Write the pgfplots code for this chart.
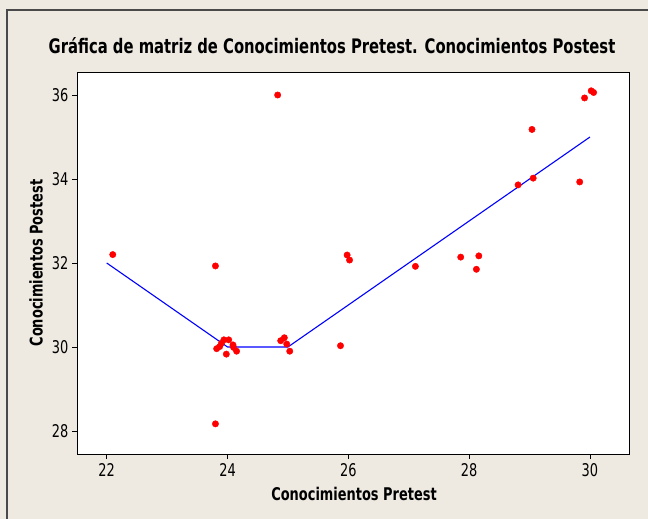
\documentclass[border=0pt]{standalone}
\usepackage{fontspec}
\setmainfont{DejaVu Sans}[FakeStretch=0.74]
\usepackage{pgfplots}
\pgfplotsset{compat=1.18}
\definecolor{bgbeige}{HTML}{EEEAE1}
\definecolor{framegray}{HTML}{4A4A4A}
\begin{document}
\begin{tikzpicture}[x=1pt,y=1pt]
\fill[bgbeige] (0,0) rectangle (648,519);
\draw[framegray,line width=1.5pt] (7,0) -- (7,509) -- (648,509);
\begin{axis}[
  at={(77pt,65pt)}, anchor=south west,
  scale only axis, width=552pt, height=382pt,
  xmin=21.508, xmax=30.646, ymin=27.452, ymax=36.548,
  xtick={22,24,26,28,30}, ytick={28,30,32,34,36},
  tick align=outside, tick pos=left,
  major tick length=5pt,
  every tick/.style={black, line width=0.6pt},
  axis line style={black, line width=0.8pt},
  axis background/.style={fill=white},
  /pgf/number format/assume math mode=true,
  ticklabel style={font=\fontsize{17.5}{19}\selectfont},
  xticklabel style={yshift=-1pt},
  clip=false,
]
\addplot[blue, line width=1.1pt] coordinates {
(22,32) (24,30) (25,30) (26,31) (27,32) (28,33) (29,34) (30,35)
};
\addplot[only marks, mark=*, mark size=3.2pt, red, mark options={draw=red, fill=red}] coordinates {
(22.1,32.2) (23.8,31.93) (24.83,36.0) (23.8,28.17)
(23.82,29.96) (23.87,30.01) (23.90,30.09) (23.94,30.17) (24.02,30.17)
(23.98,29.83) (24.09,30.05) (24.10,29.99) (24.15,29.90)
(24.88,30.15) (24.94,30.22) (24.98,30.07) (25.03,29.90)
(25.87,30.03) (25.98,32.19) (26.02,32.07)
(27.11,31.92) (27.86,32.14) (28.16,32.17) (28.12,31.85)
(28.81,33.86) (29.06,34.02) (29.04,35.18) (29.83,33.93)
(29.91,35.93) (30.02,36.1) (30.06,36.06)
};
\end{axis}
\node[font=\fontsize{20}{22}\selectfont\bfseries] at (332,473) {Gráfica de matriz de Conocimientos Pretest. Conocimientos Postest};
\node[font=\fontsize{17.5}{20}\selectfont\bfseries] at (354,25) {Conocimientos Pretest};
\node[font=\fontsize{17.5}{20}\selectfont\bfseries, rotate=90] at (36,256) {Conocimientos Postest};
\pgfresetboundingbox
\path (0,0) rectangle (648,519);
\end{tikzpicture}
\end{document}
